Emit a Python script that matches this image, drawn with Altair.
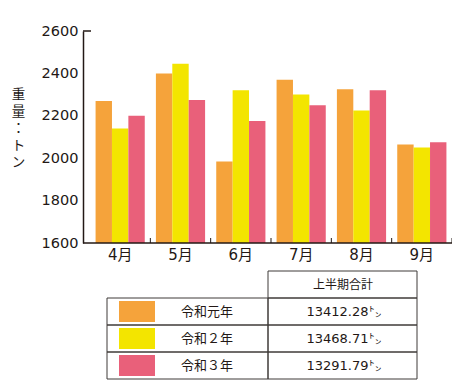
import altair as alt
import pandas as pd

months = ["4月", "5月", "6月", "7月", "8月", "9月"]
years = ["令和元年", "令和２年", "令和３年"]
colors = ["#F5A33B", "#F3E500", "#E9607A"]
v_r1 = [2270, 2400, 1985, 2370, 2325, 2065]
v_r2 = [2140, 2445, 2320, 2300, 2225, 2050]
v_r3 = [2200, 2275, 2175, 2250, 2320, 2075]
totals = ["13412.28㌧", "13468.71㌧", "13291.79㌧"]
header = "上半期合計"
y_ticks = [1600, 1800, 2000, 2200, 2400, 2600]
y_title = ["重", "量", "：", "ト", "ン"]

INK = "#231815"
NUMFONT = "DejaVu Sans, Noto Sans CJK JP"
JPFONT = "Noto Sans CJK JP"

rows = []
for yr, vals in zip(years, [v_r1, v_r2, v_r3]):
    for m, v in zip(months, vals):
        rows.append({"month": m, "year": yr, "value": v})
df = pd.DataFrame(rows)

W, H = 369, 212

xscale = alt.Scale(domain=months, range=[7, W], paddingInner=0, paddingOuter=0)
cscale = alt.Scale(domain=years, range=colors)

bars = alt.Chart(df).mark_bar().encode(
    x=alt.X("month:N", sort=months, scale=xscale,
            axis=alt.Axis(title=None, domain=False, ticks=False, tickSize=0,
                          labelPadding=4, labelFontSize=15, labelFont=NUMFONT,
                          labelColor=INK, labelAngle=0)),
    xOffset=alt.XOffset("year:N", sort=years,
                        scale=alt.Scale(domain=years, paddingInner=0, paddingOuter=0.34)),
    y=alt.Y("value:Q",
            scale=alt.Scale(domain=[1600, 2600], nice=False, zero=False, clamp=True),
            axis=alt.Axis(values=y_ticks, format="d", grid=False, ticks=False, tickSize=0,
                          labelPadding=5, labelFontSize=14.5, labelFont=NUMFONT,
                          labelColor=INK, domainColor=INK, domainWidth=1.5,
                          title=y_title, titleAngle=0, titleFont=JPFONT,
                          titleFontSize=13.5, titleFontWeight="normal",
                          titleLineHeight=17, titleColor=INK,
                          titleAlign="center", titleBaseline="top",
                          titleX=-65, titleY=56)),
    color=alt.Color("year:N", scale=cscale, legend=None),
)

one = pd.DataFrame({"k": [0]})
xaxis_line = alt.Chart(one).mark_rule(color=INK, strokeWidth=1.5).encode(
    x=alt.value(0), x2=alt.value(W), y=alt.value(H))
ycap = alt.Chart(one).mark_rule(color=INK, strokeWidth=1.5).encode(
    x=alt.value(0), x2=alt.value(8), y=alt.value(0))

tick_df = pd.DataFrame({"month": months[1:]})
ticks_a = alt.Chart(tick_df).mark_rule(color=INK, strokeWidth=1).encode(
    x=alt.X("month:N", sort=months, scale=xscale, bandPosition=0),
    y=alt.value(H), y2=alt.value(H - 5))
ticks_b = alt.Chart(pd.DataFrame({"month": months[-1:]})).mark_rule(color=INK, strokeWidth=1).encode(
    x=alt.X("month:N", sort=months, scale=xscale, bandPosition=1),
    y=alt.value(H), y2=alt.value(H - 5))

# table
row_keys = ["header"] + years
tscale = alt.Scale(domain=row_keys, range=[240, 348], paddingInner=0, paddingOuter=0)
tdf = pd.DataFrame({"row": years, "total": totals})
hdf = pd.DataFrame({"row": ["header"], "label": [header]})

def ty():
    return alt.Y("row:N", sort=row_keys, scale=tscale, axis=None)

label_cells = alt.Chart(tdf).mark_rect(fillOpacity=0, stroke="#3e3a39", strokeWidth=1).encode(
    y=ty(), x=alt.value(24), x2=alt.value(185))
value_cells = alt.Chart(tdf).mark_rect(fillOpacity=0, stroke="#3e3a39", strokeWidth=1).encode(
    y=ty(), x=alt.value(185), x2=alt.value(334))
header_cell = alt.Chart(hdf).mark_rect(fillOpacity=0, stroke="#3e3a39", strokeWidth=1).encode(
    y=ty(), x=alt.value(185), x2=alt.value(334))
swatches = alt.Chart(tdf).mark_bar(height=21).encode(
    y=ty(), x=alt.value(36), x2=alt.value(72),
    color=alt.Color("row:N", scale=cscale, legend=None))
label_text = alt.Chart(tdf).mark_text(font=JPFONT, fontSize=13, color=INK,
                                      align="center", baseline="middle").encode(
    y=ty(), x=alt.value(124), text="row:N")
value_text = alt.Chart(tdf).mark_text(font=NUMFONT, fontSize=13, color=INK,
                                      align="center", baseline="middle").encode(
    y=ty(), x=alt.value(261), text="total:N")
header_text = alt.Chart(hdf).mark_text(font=JPFONT, fontSize=12, color=INK,
                                       align="center", baseline="middle").encode(
    y=ty(), x=alt.value(260), text="label:N")

chart = alt.layer(
    bars, xaxis_line, ycap, ticks_a, ticks_b,
    label_cells, value_cells, header_cell, swatches,
    label_text, value_text, header_text,
).resolve_scale(y="independent").properties(
    width=W, height=H,
    autosize=alt.AutoSizeParams(type="none"),
    padding={"left": 75, "top": 23, "right": 0, "bottom": 137},
    background="white",
).configure_view(stroke=None)

chart.save("out.html", embed_options={"renderer": "svg", "actions": False})
